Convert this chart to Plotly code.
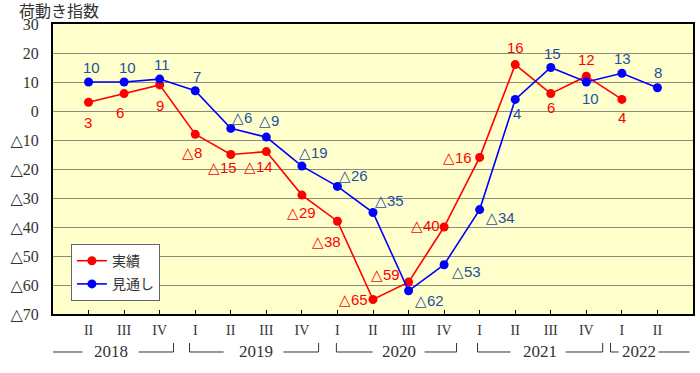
import plotly.graph_objects as go

# ---- data ----
quarters = ["II", "III", "IV", "I", "II", "III", "IV", "I", "II", "III", "IV",
            "I", "II", "III", "IV", "I", "II"]
years = ["2018", "2019", "2020", "2021", "2022"]
actual = [3, 6, 9, -8, -15, -14, -29, -38, -65, -59, -40, -16, 16, 6, 12, 4, None]
forecast = [10, 10, 11, 7, -6, -9, -19, -26, -35, -62, -53, -34, 4, 15, 10, 13, 8]
y_ticks = [30, 20, 10, 0, -10, -20, -30, -40, -50, -60, -70]
series_names = ["実績", "見通し"]
title_text = "荷動き指数"


def fmt(v):
    return ("△" + str(-v)) if v < 0 else str(v)


x_idx = list(range(len(quarters)))

# label offsets in pixels (dx right, dy down)
red_off = [(-1, 20), (-4, 19), (0, 21), (-3, 18), (-8, 13), (-8, 15), (0, 17), (-11, 20),
           (-20, 0), (-23, -8), (-19, -2), (-22, 0), (0, -17), (0, 14), (0, -17), (0, 18), (0, 0)]
blue_off = [(3, -15), (3, -15), (2, -15), (2, -14), (11, -11), (3, -17), (12, -14), (16, -11),
            (16, -12), (21, 10), (22, 7), (21, 8), (2, 14), (2, -14), (4, 16), (1, -15), (1, -15)]

RED = "#FF0000"
BLUE = "#0000FF"
RED_TXT = "#FF0000"
BLUE_TXT = "#1F4FA0"

fig = go.Figure()
fig.add_trace(go.Scatter(x=x_idx, y=actual, name=series_names[0], mode="lines+markers",
                         legendgroup="a",
                         line=dict(color=RED, width=1.6), marker=dict(size=9, color=RED)))
fig.add_trace(go.Scatter(x=x_idx, y=forecast, name=series_names[1], mode="lines+markers",
                         legendgroup="b",
                         line=dict(color=BLUE, width=1.6), marker=dict(size=9, color=BLUE)))

annotations = []
lab_font = "Liberation Sans, Arial, sans-serif"
for i, v in enumerate(actual):
    if v is None:
        continue
    dx, dy = red_off[i]
    annotations.append(dict(x=i, y=v, xref="x", yref="y", text=fmt(v), showarrow=False,
                            xshift=dx, yshift=-dy, font=dict(family=lab_font, size=15, color=RED_TXT)))
for i, v in enumerate(forecast):
    dx, dy = blue_off[i]
    annotations.append(dict(x=i, y=v, xref="x", yref="y", text=fmt(v), showarrow=False,
                            xshift=dx, yshift=-dy, font=dict(family=lab_font, size=15, color=BLUE_TXT)))

# title
annotations.append(dict(x=-0.056, y=1.048, xref="paper", yref="paper", text=title_text,
                        showarrow=False, xanchor="left", yanchor="middle",
                        font=dict(family="Noto Sans CJK JP", size=16, color="#333333")))

# year labels and brackets
serif = "Liberation Serif, DejaVu Serif, serif"
year_x = [0.62, 4.7, 8.72, 12.71, 15.47]
for yr, xc in zip(years, year_x):
    annotations.append(dict(x=xc, y=-0.131, xref="x", yref="paper", text=yr, showarrow=False,
                            xanchor="center", yanchor="middle",
                            font=dict(family=serif, size=17, color="#333333")))

shapes = []
yl = -0.131
yt = -0.100
hlines = [(-1, -0.17), (1.41, 2.39), (2.84, 3.80), (5.48, 6.47), (6.97, 7.99), (9.45, 10.35),
          (10.94, 11.87), (13.42, 14.46), (14.68, 14.91), (16.03, 16.9)]
vlines = [2.39, 2.84, 6.47, 6.97, 10.35, 10.94, 14.46, 14.68]
for a, b in hlines:
    shapes.append(dict(type="line", xref="x", yref="paper", x0=a, x1=b, y0=yl, y1=yl,
                       line=dict(color="#333333", width=1)))
for a in vlines:
    shapes.append(dict(type="line", xref="x", yref="paper", x0=a, x1=a, y0=yl, y1=yt,
                       line=dict(color="#333333", width=1)))

fig.update_layout(
    width=700, height=373,
    margin=dict(l=53, r=7, t=24, b=59, autoexpand=False),
    paper_bgcolor="white",
    plot_bgcolor="#FFFFCC",
    showlegend=True,
    legend=dict(x=0.028, y=0.241, xanchor="left", yanchor="top",
                bgcolor="white", bordercolor="#666666", borderwidth=1,
                font=dict(family="Noto Sans CJK JP", size=14, color="#333333"),
                tracegroupgap=2, entrywidth=62, entrywidthmode="pixels"),
    annotations=annotations,
    shapes=shapes,
)
fig.update_xaxes(range=[-1, 17], tickvals=x_idx, ticktext=quarters, showgrid=False,
                 automargin=False,
                 zeroline=False, showline=True, linecolor="black", linewidth=2, mirror=True,
                 ticks="inside", ticklen=4, tickcolor="black", tickwidth=1,
                 ticklabelstandoff=2,
                 tickfont=dict(family=serif, size=14, color="#333333"))
fig.update_yaxes(range=[-70, 30], tickvals=y_ticks, ticktext=[fmt(v) for v in y_ticks],
                 automargin=False,
                 showgrid=True, gridcolor="#8C8C78", gridwidth=1, zeroline=False,
                 showline=True, linecolor="black", linewidth=2, mirror=True,
                 ticks="", ticklabelstandoff=9,
                 tickfont=dict(family=serif, size=16, color="#333333"))

fig.write_html("out.html", config={"displayModeBar": False},
               post_script="document.body.style.margin='0';document.body.style.overflow='hidden';")
